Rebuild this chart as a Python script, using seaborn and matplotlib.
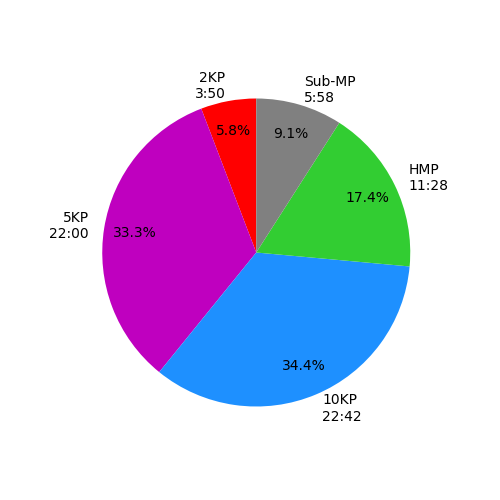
import matplotlib
matplotlib.use("Agg")
import matplotlib.pyplot as plt
import seaborn as sns

# race distances and times
distances = ["2KP", "5KP", "10KP", "HMP", "Sub-MP"]
time_labels = ["3:50", "22:00", "22:42", "11:28", "5:58"]
# seconds (Sub-MP carries a fraction of a second)
seconds = [230, 1320, 1362, 688, 358.9]
slice_colors = ["red", "m", "dodgerblue", "limegreen", "grey"]

labels = [d + "\n" + t for d, t in zip(distances, time_labels)]
palette = sns.color_palette(slice_colors)

fig, ax = plt.subplots(figsize=(5, 5), dpi=100)
ax.pie(seconds, labels=labels, colors=palette, autopct='%1.1f%%',
       startangle=90, pctdistance=0.8)
fig.savefig("out.png")
